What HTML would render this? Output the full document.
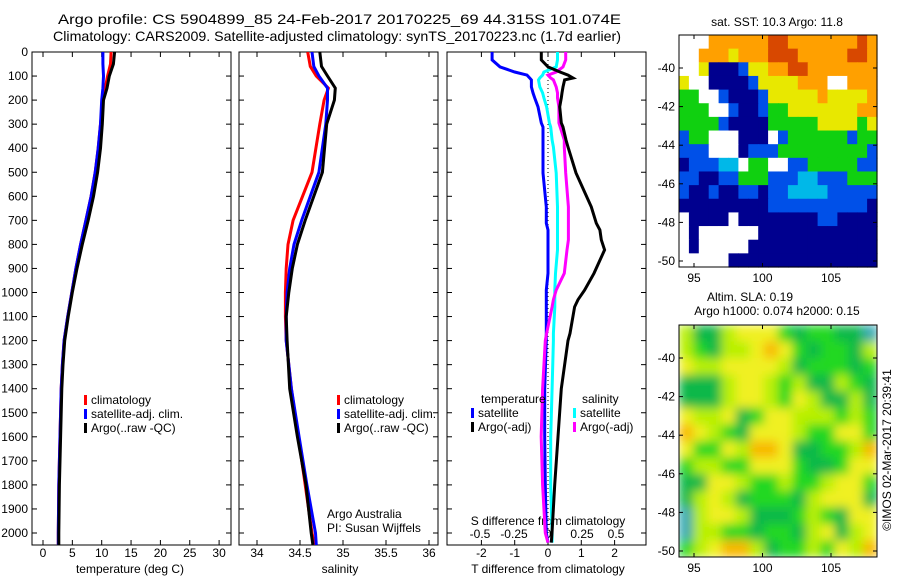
<!DOCTYPE html>
<html><head><meta charset="utf-8"><style>
body{margin:0;background:#fff}
svg text{font-family:"Liberation Sans",sans-serif;font-size:12px;fill:#000}
</style></head><body>
<svg id="c" width="900" height="580" viewBox="0 0 900 580" xmlns="http://www.w3.org/2000/svg">
<defs>
<clipPath id="cp1"><rect x="32" y="52" width="199" height="493"/></clipPath>
<clipPath id="cp2"><rect x="239" y="52" width="199" height="493"/></clipPath>
<clipPath id="cp3"><rect x="447" y="52" width="199" height="493"/></clipPath>
<clipPath id="cm2"><rect x="679" y="325" width="198" height="232"/></clipPath>
<filter id="bl" x="-10%" y="-10%" width="120%" height="120%"><feGaussianBlur stdDeviation="5" edgeMode="duplicate"/></filter>
</defs>
<g id="root"></g>
</svg>
<script>
// ---- data ----
const depthsT = [0,50,100,150,200,300,400,500,600,700,800,900,1000,1100,1200,1300,1400,1600,1800,2000,2050];
const tempArgo = [12.2,12.0,11.3,10.9,10.3,10.1,9.8,9.3,8.6,7.7,6.7,5.8,5.0,4.3,3.7,3.4,3.2,3.0,2.8,2.7,2.7];
const tempSat  = [10.2,10.2,10.3,10.2,10.0,9.8,9.4,8.9,8.2,7.3,6.4,5.6,4.9,4.2,3.6,3.3,3.1,2.9,2.7,2.6,2.6];
const tempClim = [11.6,11.5,11.0,10.6,10.2,9.8,9.4,8.9,8.2,7.3,6.4,5.6,4.9,4.2,3.6,3.3,3.1,2.9,2.7,2.6,2.6];
const depthsS = [0,60,100,150,200,300,500,700,800,900,1000,1100,1200,1400,1600,1800,2000,2050];
const salArgo = [34.73,34.75,34.82,34.91,34.90,34.81,34.76,34.56,34.47,34.41,34.37,34.34,34.35,34.38,34.47,34.57,34.63,34.65];
const salSat  = [34.64,34.66,34.72,34.82,34.82,34.80,34.72,34.52,34.43,34.38,34.35,34.34,34.34,34.40,34.49,34.58,34.68,34.69];
const salClim = [34.59,34.62,34.69,34.83,34.78,34.73,34.64,34.42,34.36,34.34,34.33,34.33,34.34,34.40,34.48,34.56,34.64,34.67];
const depthsD = [0,33,62,83,96,108,116,145,170,191,228,295,312,366,395,503,644,712,740,781,823,920,990,1030,1060,1170,1200,1400,1600,1800,2000,2040];
const dTsat  = [-1.68,-1.68,-1.44,-1.0,-0.63,-0.55,-0.5,-0.5,-0.45,-0.4,-0.3,-0.2,-0.15,-0.15,-0.15,-0.15,-0.05,-0.05,0,0,0,0,-0.05,-0.05,-0.05,-0.05,-0.05,-0.1,-0.1,-0.08,-0.05,0];
const dTargo = [-0.2,-0.2,0,0.36,0.6,0.75,0.5,0.45,0.42,0.4,0.35,0.4,0.45,0.54,0.6,0.84,1.3,1.45,1.56,1.6,1.7,1.38,1.1,0.9,0.8,0.66,0.6,0.4,0.3,0.2,0.12,0.1];
const dSsat  = [0.07,0.07,0.06,-0.03,-0.04,-0.06,-0.07,-0.06,-0.04,-0.03,-0.01,0.01,0.02,0.03,0.04,0.06,0.07,0.07,0.07,0.07,0.07,0.055,0.05,0.05,0.05,0.04,0.04,0.03,0.02,0.02,0.03,0.03];
const dSargo = [0.13,0.13,0.11,0.06,0.0,0.02,0.04,0.06,0.07,0.07,0.08,0.08,0.09,0.12,0.12,0.13,0.15,0.15,0.15,0.15,0.14,0.12,0.06,0.04,0.03,-0.01,-0.02,-0.04,-0.05,-0.04,-0.02,0];
const depthTicks = [0,100,200,300,400,500,600,700,800,900,1000,1100,1200,1300,1400,1500,1600,1700,1800,1900,2000];
const tTicks = [0,5,10,15,20,25,30];
const sTicks = [34,34.5,35,35.5,36];
const sTickLabels = ["34","34.5","35","35.5","36"];
const dTTicks = [-2,-1,0,1,2];
const dSTicks = [-0.5,-0.25,0,0.25,0.5];
const dSTickLabels = ["-0.5","-0.25","0","0.25","0.5"];
const latTicks = [-40,-42,-44,-46,-48,-50];
const lonTicks = [95,100,105];
const sstGrid = [
"WWWOOOOOORROOOOOOORO","WWOOOYOOORRROOOOORRO","WWYNNNBYYOORROOOOOOO","YWWNNNNBYYYYOOOWWOOO",
"GGWWBNNNBYYYYYOYYYYO","GGGWWBNNBGGYYYYYYYOO","GGGGBNNNNGGGGGYYYYGY","BGGWWWNNNWBGGGGGGBGG",
"BBBWWWNBBBGGGGGGGGGB","NBBBCCWGGWWBBGGGGGBB","BBNNBBGGGBBBCCBBBGGG","BNNBNNBBNBBCCCCBBBBB",
"NNNNNNNNNBBBBBBBBBBN","WNNNNWNNNNNNNNBBNNNN","WNWWWWWWNNNNNNNNNNNN","WNWWWWWNNNNNNNNNNNNN",
"WWWWWNNNNNNNNNNNNNNN"];
const slaGrid = [
"LDDLYYYGDGGDDC","LGDLLYOYGDGGDL","YLLYYYYLDGGGDG","DDDLYYLGLDDLGD","DDDLYYLGYLDDLD",
"YLLYDGYYLLLGLG","OYLGDYYYLGGYYG","YGGYLOOYDDGGLO","GLLGGYYYGDDGYY","DDYYLGGLGGLYYG",
"DLYLDGGGDLYYYD","CLYYLDDDGLGDYY","CLLGGDGGDLYDLY","GLYOOLDGGLGYLO"];
const sstCol = {W:"#ffffff",N:"#00008f",B:"#0050e8",C:"#00b8e8",G:"#10d010",Y:"#e8e800",O:"#ffa000",R:"#d84800"};
const slaCol = {Y:"#f0f020",L:"#b8f000",G:"#20d820",D:"#10b848",C:"#30a8b0",O:"#f8b800"};

// ---- axes ----
const yD = d => 52 + d*0.2405;
const xT = t => 43 + t*5.87;
const xS = s => 257 + (s-34)*86;
const xDT = t => 548 + t*33.3;
const xDS = s => 548 + s*136;
const xLon = l => 762.5 + (l-100)*13.7;
const yLat1 = l => 68 + (-40-l)*19.3;
const yLat2 = l => 358 + (-40-l)*19.3;

const NS="http://www.w3.org/2000/svg", root=document.getElementById('root');
function mk(tag, attrs, parent){const e=document.createElementNS(NS,tag);for(const k in attrs)e.setAttribute(k,attrs[k]);(parent||root).appendChild(e);return e;}
function txt(x,y,s,anchor,parent){const e=mk('text',{x:x,y:y,'text-anchor':anchor||'start'},parent);e.textContent=s;return e;}

function frame(x,w,name){
  const r=mk('rect',{x:x,y:52,width:w,height:493,fill:'none',stroke:'#000','stroke-width':1});
  
  
  depthTicks.forEach(d=>{mk('line',{x1:x,x2:x+5,y1:yD(d),y2:yD(d),stroke:'#000'});mk('line',{x1:x+w-5,x2:x+w,y1:yD(d),y2:yD(d),stroke:'#000'});});
}
function xticks(vals,fx,labels,ly){
  vals.forEach((v,i)=>{const x=fx(v);mk('line',{x1:x,x2:x,y1:52,y2:57,stroke:'#000'});mk('line',{x1:x,x2:x,y1:540,y2:545,stroke:'#000'});
    const t=txt(x,ly,labels?labels[i]:String(v),'middle');
    
    });
}
function line(xs,ds,fx,col,clip,name){
  const pts=xs.map((v,i)=>fx(v).toFixed(1)+','+yD(ds[i]).toFixed(1)).join(' ');
  const p=mk('polyline',{points:pts,fill:'none',stroke:col,'stroke-width':3,'clip-path':'url(#'+clip+')'});
  
  
}
function legend(x,y,col,label,name){
  mk('rect',{x:x,y:y-9,width:3,height:10,fill:col});
  const t=txt(x+7,y,label);
  
  
}

// titles
let t=txt(58,24,'Argo profile: CS 5904899_85 24-Feb-2017 20170225_69 44.315S 101.074E');
t.setAttribute('style','font-size:14px');
t.setAttribute('textLength','563');
t.setAttribute('lengthAdjust','spacingAndGlyphs');


t=txt(53,41,'Climatology: CARS2009. Satellite-adjusted climatology: synTS_20170223.nc (1.7d earlier)');
t.setAttribute('style','font-size:14px');
t.setAttribute('textLength','568');
t.setAttribute('lengthAdjust','spacingAndGlyphs');



// panel 1
frame(32,199,'temperature-panel');
depthTicks.forEach(d=>{const e=txt(28,yD(d)+4,String(d),'end');
  
  });
xticks(tTicks,xT,null,557);
t=txt(130,573,'temperature (deg C)','middle');


line(tempClim,depthsT,xT,'#ff0000','cp1','temp-climatology-line');
line(tempSat,depthsT,xT,'#0000ff','cp1','temp-satellite-line');
line(tempArgo,depthsT,xT,'#000000','cp1','temp-argo-line');
legend(84,404,'#ff0000','climatology','legend-climatology');
legend(84,418,'#0000ff','satellite-adj. clim.','legend-satellite');
legend(84,432,'#000000','Argo(..raw -QC)','legend-argo');

// panel 2
frame(239,199,'salinity-panel');
xticks(sTicks,xS,sTickLabels,557);
t=txt(340,573,'salinity','middle');


line(salClim,depthsS,xS,'#ff0000','cp2','sal-climatology-line');
line(salSat,depthsS,xS,'#0000ff','cp2','sal-satellite-line');
line(salArgo,depthsS,xS,'#000000','cp2','sal-argo-line');
legend(337,404,'#ff0000','climatology','legend-climatology-2');
legend(337,418,'#0000ff','satellite-adj. clim.','legend-satellite-2');
legend(337,432,'#000000','Argo(..raw -QC)','legend-argo-2');
t=txt(327,518,'Argo Australia');


t=txt(327,532,'PI: Susan Wijffels');



// panel 3
frame(447,199,'difference-panel');
xticks(dTTicks,xDT,null,557);
dSTicks.forEach((v,i)=>{const e=txt(xDS(v),538,dSTickLabels[i],'middle');
  
  });
t=txt(548,525,'S difference from climatology','middle');


t=txt(548,573,'T difference from climatology','middle');


mk('line',{x1:xDT(0),x2:xDT(0),y1:52,y2:545,stroke:'#000','stroke-dasharray':'1,3'});
line(dTsat,depthsD,xDT,'#0000ff','cp3','tdiff-satellite-line');
line(dSsat,depthsD,xDS,'#00ffff','cp3','sdiff-satellite-line');
line(dSargo,depthsD,xDS,'#ff00ff','cp3','sdiff-argo-line');
line(dTargo,depthsD,xDT,'#000000','cp3','tdiff-argo-line');
t=txt(481,403,'temperature');


t=txt(582,403,'salinity');


legend(471,417,'#0000ff','satellite','legend-t-satellite');
legend(471,431,'#000000','Argo(-adj)','legend-t-argo');
legend(573,417,'#00ffff','satellite','legend-s-satellite');
legend(573,431,'#ff00ff','Argo(-adj)','legend-s-argo');

// maps
function map(grid,cols,y0,h,blur,name,fy){
  const g=mk('g',blur?{'clip-path':'url(#cm2)'}:{});
  const inner=mk('g',blur?{filter:'url(#bl)'}:{},g);
  const nr=grid.length,nc=grid[0].length,cw=198/nc,ch=h/nr;
  grid.forEach((row,r)=>{[...row].forEach((c,k)=>{mk('rect',{x:(679+k*cw).toFixed(2),y:(y0+r*ch).toFixed(2),width:(cw+0.6).toFixed(2),height:(ch+0.6).toFixed(2),fill:cols[c]},inner);});});
  const f=mk('rect',{x:679,y:y0,width:198,height:h,fill:'none',stroke:'#000'});
  
  
  latTicks.forEach(l=>{const y=fy(l);mk('line',{x1:679,x2:683,y1:y,y2:y,stroke:'#000'});mk('line',{x1:873,x2:877,y1:y,y2:y,stroke:'#000'});
    const e=txt(675,y+4,String(l),'end');
    
    });
  lonTicks.forEach(l=>{const x=xLon(l);mk('line',{x1:x,x2:x,y1:y0,y2:y0+4,stroke:'#000'});mk('line',{x1:x,x2:x,y1:y0+h-4,y2:y0+h,stroke:'#000'});
    const e=txt(x,y0+h+15,String(l),'middle');
    
    });
}
map(sstGrid,sstCol,35,232,false,'sst-map',yLat1);
map(slaGrid,slaCol,325,232,true,'sla-map',yLat2);
t=txt(777,26,'sat. SST: 10.3 Argo: 11.8','middle');


t=txt(750,301,'Altim. SLA: 0.19','middle');


t=txt(777,315,'Argo h1000: 0.074 h2000: 0.15','middle');


t=txt(0,0,'©IMOS 02-Mar-2017 20:39:41','middle');
t.setAttribute('transform','translate(891,450) rotate(-90)');


</script>
</body></html>
